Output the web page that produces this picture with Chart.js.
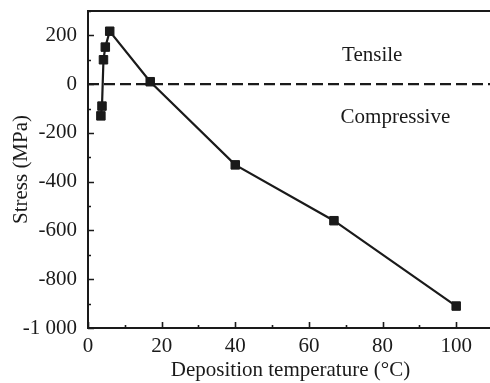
<!DOCTYPE html>
<html>
<head>
<meta charset="utf-8">
<script src="https://cdn.jsdelivr.net/npm/chart.js@4.4.1/dist/chart.umd.min.js"></script>
<style>
html,body{margin:0;padding:0;background:#fff;overflow:hidden;}
#wrap{width:500px;height:383px;position:relative;}
</style>
</head>
<body>
<div id="wrap"><canvas id="c" width="500" height="383"></canvas></div>
<script>
// Data
const temperatures = [3.5, 3.8, 4.2, 4.7, 5.9, 16.9, 40, 66.8, 100];
const stresses     = [-130, -90, 100, 152, 217, 10, -331, -560, -910];
const xTickValues = [0, 20, 40, 60, 80, 100];
const yTickValues = [200, 0, -200, -400, -600, -800, -1000];
const zeroLine = [0, 0];
const regionLabels = ['Tensile', 'Compressive'];
const regionLabelPos = [[77.2, 119], [83.5, -135]];

const FONT = '"Liberation Serif", "Times New Roman", serif';
const INK = '#1a1a1a';

function fmtY(v){
  if (v === -1000) return '-1 000';
  return String(v);
}

const framePlugin = {
  id: 'frame',
  afterDraw(chart){
    const ctx = chart.ctx;
    const a = chart.chartArea;
    const xs = chart.scales.x, ys = chart.scales.y;
    ctx.save();
    ctx.strokeStyle = INK;
    ctx.lineWidth = 2;
    ctx.beginPath();
    ctx.moveTo(a.left, a.top); ctx.lineTo(a.right, a.top);
    ctx.moveTo(a.left, a.top - 1); ctx.lineTo(a.left, a.bottom + 1);
    ctx.moveTo(a.left - 1, a.bottom); ctx.lineTo(a.right, a.bottom);
    ctx.stroke();
    ctx.lineWidth = 1.6;
    ctx.beginPath();
    for (let v = 0; v <= 110; v += 10){
      const px = Math.round(xs.getPixelForValue(v)) + 0.5;
      const len = (v % 20 === 0) ? 6 : 3;
      ctx.moveTo(px, a.bottom); ctx.lineTo(px, a.bottom - len);
    }
    for (let v = -1000; v <= 300; v += 100){
      const py = Math.round(ys.getPixelForValue(v)) + 0.5;
      const len = (v % 200 === 0) ? 6 : 3;
      ctx.moveTo(a.left, py); ctx.lineTo(a.left + len, py);
    }
    ctx.stroke();
    ctx.fillStyle = INK;
    ctx.font = '21px ' + FONT;
    ctx.textAlign = 'center';
    ctx.textBaseline = 'middle';
    regionLabels.forEach((t, i) => {
      ctx.fillText(t, xs.getPixelForValue(regionLabelPos[i][0]), ys.getPixelForValue(regionLabelPos[i][1]));
    });
    ctx.restore();
  }
};

new Chart(document.getElementById('c'), {
  type: 'scatter',
  data: {
    datasets: [
      {
        data: temperatures.map((t, i) => ({x: t, y: stresses[i]})),
        showLine: true,
        borderColor: INK,
        backgroundColor: INK,
        borderWidth: 2.2,
        pointStyle: 'rect',
        pointRadius: 6,
        pointBorderWidth: 1,
        pointBorderColor: INK,
        pointBackgroundColor: INK,
        tension: 0,
        order: 1
      },
      {
        data: [{x: 0, y: zeroLine[0]}, {x: 110, y: zeroLine[1]}],
        showLine: true,
        borderColor: INK,
        borderWidth: 2.2,
        borderDash: [11, 5],
        pointRadius: 0,
        order: 2
      }
    ]
  },
  options: {
    responsive: false,
    animation: false,
    events: [],
    layout: { padding: { top: 0, right: 5, left: 0, bottom: 0 } },
    plugins: { legend: { display: false }, tooltip: { enabled: false } },
    scales: {
      x: {
        type: 'linear',
        min: 0, max: 110,
        border: { display: false },
        grid: { display: false, drawTicks: false },
        afterBuildTicks(s){ s.ticks = xTickValues.map(v => ({value: v})); },
        afterFit(s){ s.height = 55; },
        ticks: { color: INK, font: { family: FONT, size: 21 }, padding: 6, maxRotation: 0, autoSkip: false },
        title: { display: true, text: 'Deposition temperature (\u00B0C)', color: INK, font: { family: FONT, size: 21 }, padding: { top: 0, bottom: 0 } }
      },
      y: {
        type: 'linear',
        min: -1000, max: 300,
        border: { display: false },
        grid: { display: false, drawTicks: false },
        afterBuildTicks(s){ s.ticks = yTickValues.map(v => ({value: v})); },
        afterFit(s){ s.width = 88; s.paddingTop = 11; s.paddingBottom = 0; },
        ticks: { color: INK, font: { family: FONT, size: 21 }, padding: 11, autoSkip: false, callback: v => fmtY(v) },
        title: { display: true, text: 'Stress (MPa)', color: INK, font: { family: FONT, size: 21 }, padding: { top: 9, bottom: 0 } }
      }
    }
  },
  plugins: [framePlugin]
});
</script>
</body>
</html>
